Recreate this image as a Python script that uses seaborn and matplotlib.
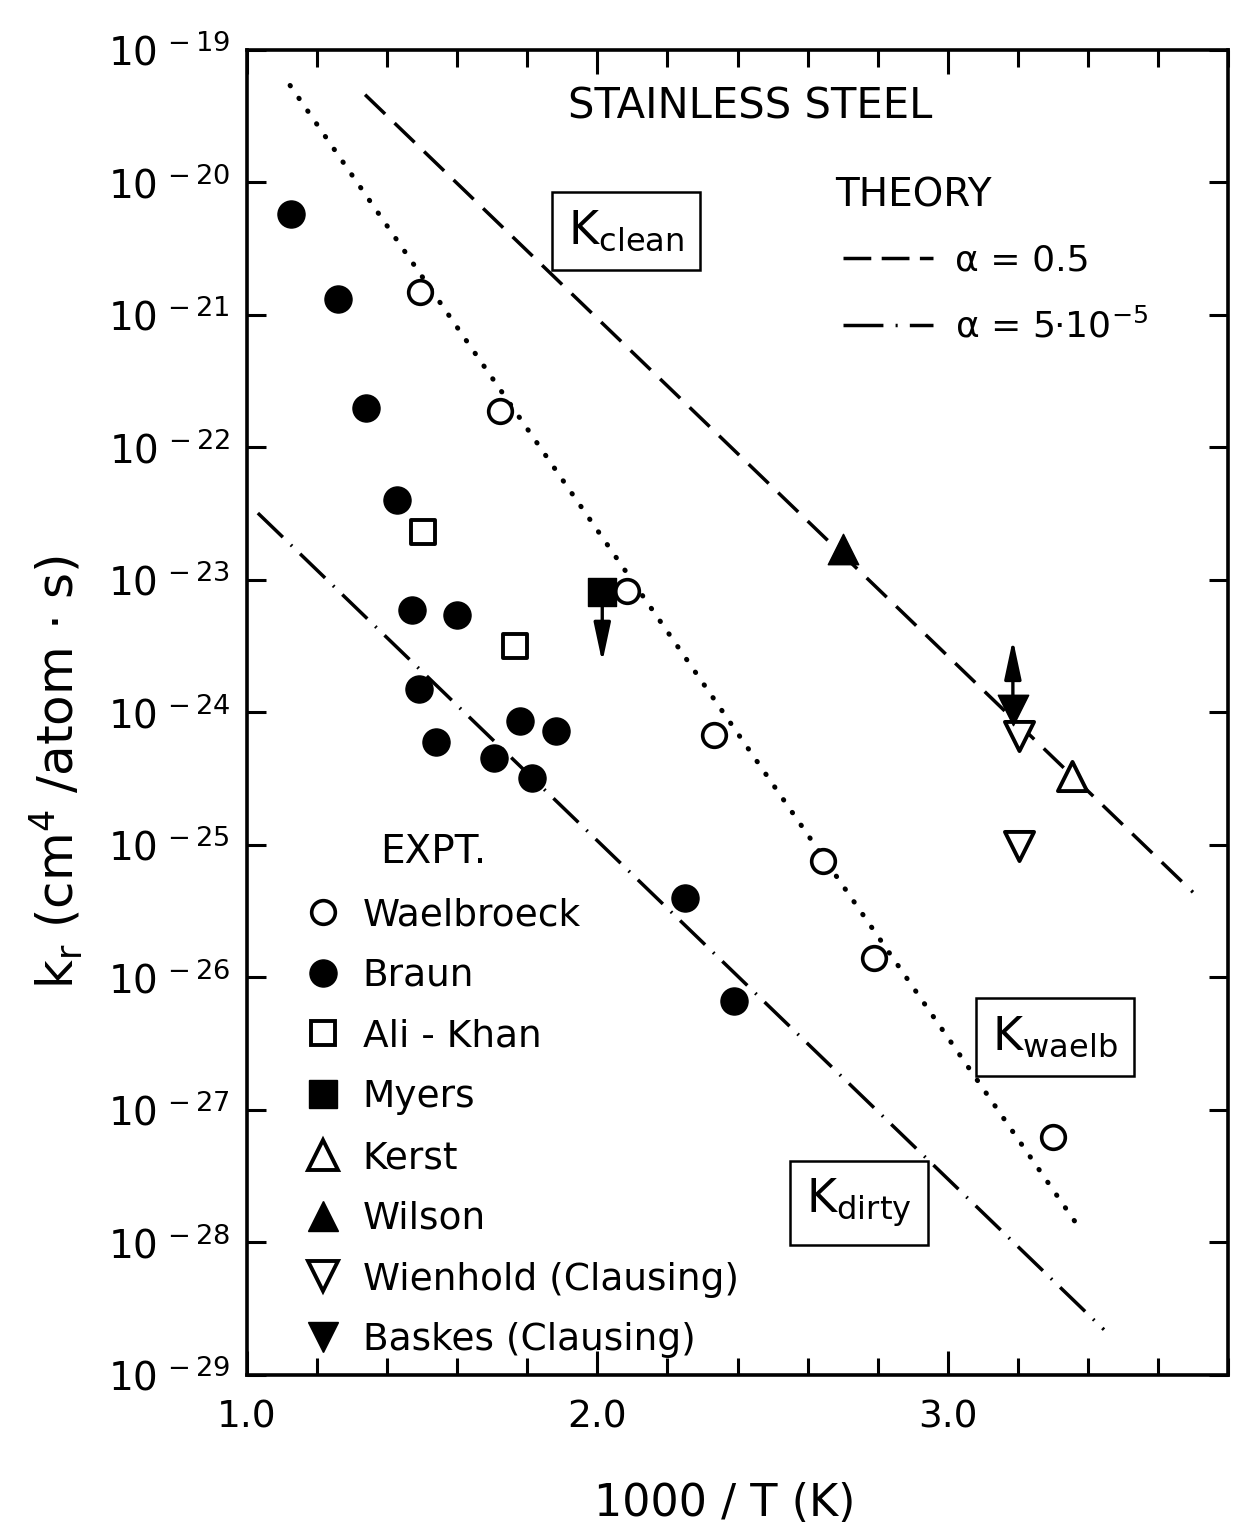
import numpy as np
import pandas as pd
import matplotlib
matplotlib.use("Agg")
import matplotlib.pyplot as plt
import seaborn as sns
from matplotlib.lines import Line2D
from matplotlib.ticker import FixedLocator, NullLocator, MultipleLocator

# ---------------- data ----------------
waelbroeck_x = [1.494, 1.723, 2.086, 2.334, 2.643, 2.791, 3.300]
waelbroeck_k = [1.5e-21, 1.9e-22, 8.3e-24, 6.8e-25, 7.6e-26, 1.4e-26, 6.3e-28]

braun_x = [1.126, 1.260, 1.340, 1.429, 1.471, 1.600, 1.491, 1.540,
           1.706, 1.780, 1.883, 1.814, 2.251, 2.389]
braun_k = [5.75e-21, 1.32e-21, 2.0e-22, 4.0e-23, 5.9e-24, 5.4e-24, 1.5e-24, 6.0e-25,
           4.5e-25, 8.7e-25, 7.2e-25, 3.2e-25, 4.0e-26, 6.6e-27]

alikhan_x = [1.503, 1.766]
alikhan_k = [2.3e-23, 3.2e-24]

myers_x = [2.014]
myers_k = [8.1e-24]

kerst_x = [3.354]
kerst_k = [3.3e-25]

wilson_x = [2.700]
wilson_k = [1.7e-23]

wienhold_x = [3.203, 3.203]
wienhold_k = [6.6e-25, 9.8e-26]

baskes_x = [3.186]
baskes_k = [1.05e-24]

# theory / fit lines (end points)
clean_x = [1.337, 3.700]
clean_k = [4.6e-20, 4.4e-26]
waelb_x = [1.123, 3.380]
waelb_k = [5.4e-20, 1.24e-28]
dirty_x = [1.031, 3.446]
dirty_k = [3.2e-23, 2.2e-29]

ytick_exponents = list(range(-29, -18))
xtick_major = [1.0, 2.0, 3.0]
xtick_labels = ["1.0", "2.0", "3.0"]

legend_names = ["Waelbroeck", "Braun", "Ali - Khan", "Myers", "Kerst", "Wilson",
                "Wienhold (Clausing)", "Baskes (Clausing)"]
theory_labels = ["α = 0.5", "α = 5·10$^{-5}$"]

# limit arrows: length in decades
ARROW_DECADES = 0.53

# ---------------- style ----------------
sns.set_theme(style="ticks")
plt.rcParams["font.family"] = ["DejaVu Sans"]
plt.rcParams["mathtext.fontset"] = "dejavusans"
for key in ["text.color", "axes.labelcolor", "xtick.color", "ytick.color", "axes.edgecolor"]:
    plt.rcParams[key] = "black"

fig = plt.figure(figsize=(12.4, 15.34), dpi=100, facecolor="white")
ax = fig.add_axes([247 / 1240, 1 - 1375 / 1534, 981 / 1240, 1325 / 1534])
ax.set_facecolor("white")
ax.set_yscale("log")
ax.set_xlim(1.0, 3.8)
ax.set_ylim(1e-29, 1e-19)

LW = 2.5
dashed = (0, (8, 3.8))
dotted = (0, (0.1, 3.0))
dashdot = (0, (10, 3.2, 0.5, 3.2))

sns.lineplot(x=clean_x, y=clean_k, ax=ax, color="black", lw=LW, linestyle=dashed,
             sort=False, estimator=None, zorder=2)
sns.lineplot(x=waelb_x, y=waelb_k, ax=ax, color="black", lw=3.6, linestyle=dotted,
             dash_capstyle="round", sort=False, estimator=None, zorder=2)
sns.lineplot(x=dirty_x, y=dirty_k, ax=ax, color="black", lw=LW, linestyle=dashdot,
             sort=False, estimator=None, zorder=2)

# ---------------- experimental points ----------------
series = [
    (waelbroeck_x, waelbroeck_k, "o", "white", 290, 2.6),
    (braun_x, braun_k, "o", "black", 380, 1.0),
    (alikhan_x, alikhan_k, "s", "white", 300, 2.8),
    (myers_x, myers_k, "s", "black", 400, 1.0),
    (kerst_x, kerst_k, "^", "white", 440, 2.8),
    (wilson_x, wilson_k, "^", "black", 480, 1.0),
    (wienhold_x, wienhold_k, "v", "white", 440, 2.8),
    (baskes_x, baskes_k, "v", "black", 480, 1.0),
]
for xs, ks, mk, fc, s, lw in series:
    df = pd.DataFrame({"x": xs, "k": ks})
    sns.scatterplot(data=df, x="x", y="k", ax=ax, marker=mk, s=s, color=fc,
                    edgecolor="black", linewidth=lw, zorder=4, legend=False)

# limit arrows (Myers: upper limit, Baskes: lower limit)
arrow_style = "-|>,head_length=1.4,head_width=0.3"
for x, k in zip(myers_x, myers_k):
    ax.annotate("", xy=(x, k * 10 ** (-ARROW_DECADES)), xytext=(x, k),
                arrowprops=dict(arrowstyle=arrow_style, mutation_scale=17, lw=2.4,
                                color="black", shrinkA=0, shrinkB=0), zorder=3)
for x, k in zip(baskes_x, baskes_k):
    ax.annotate("", xy=(x, k * 10 ** (ARROW_DECADES)), xytext=(x, k),
                arrowprops=dict(arrowstyle=arrow_style, mutation_scale=17, lw=2.4,
                                color="black", shrinkA=0, shrinkB=0), zorder=3)

# ---------------- axes ----------------
ax.yaxis.set_major_locator(FixedLocator([10.0 ** e for e in ytick_exponents]))
ax.yaxis.set_minor_locator(NullLocator())
ax.set_yticklabels([r"$10^{\,-%d}$" % (-e) for e in ytick_exponents])
ax.set_xticks(xtick_major)
ax.set_xticklabels(xtick_labels)
ax.xaxis.set_minor_locator(MultipleLocator(0.2))

ax.tick_params(axis="y", which="major", direction="in", length=14, width=2.2,
               left=True, right=True, labelsize=28, pad=12, colors="black")
ax.tick_params(axis="x", which="major", direction="in", length=17, width=2.2,
               top=True, bottom=True, labelsize=27, pad=18, colors="black")
ax.tick_params(axis="x", which="minor", direction="in", length=12, width=2.2,
               top=True, bottom=True, colors="black")
for sp in ax.spines.values():
    sp.set_visible(True)
    sp.set_linewidth(2.6)
    sp.set_color("black")

ax.set_xlabel("1000 / T (K)", fontsize=32, color="black")
ax.xaxis.set_label_coords(0.487, -0.081)
ax.set_ylabel("k$_{\\mathregular{r}}$ (cm$^{\\mathregular{4}}$ /atom · s)", fontsize=36,
              color="black")
ax.yaxis.set_label_coords(-0.165, 0.455)

# ---------------- texts ----------------
ax.text(0.513, 0.957, "STAINLESS STEEL", transform=ax.transAxes, fontsize=30,
        ha="center", va="center")
ax.text(0.600, 0.890, "THEORY", transform=ax.transAxes, fontsize=28,
        ha="left", va="center")
ax.text(0.1356, 0.395, "EXPT.", transform=ax.transAxes, fontsize=28,
        ha="left", va="center")

box = dict(boxstyle="square,pad=0.35", facecolor="white", edgecolor="black", lw=1.8)
for fx, fy, txt in [(0.3863, 0.8634, "K$_{\\mathregular{clean}}$"),
                    (0.8237, 0.2551, "K$_{\\mathregular{waelb}}$"),
                    (0.6239, 0.1298, "K$_{\\mathregular{dirty}}$")]:
    ax.text(fx, fy, txt, transform=ax.transAxes, fontsize=33, ha="center",
            va="center", bbox=box, zorder=5)

# theory legend
theory_handles = [Line2D([], [], color="black", lw=LW, linestyle=(0, (8, 3.0))),
                  Line2D([], [], color="black", lw=LW, linestyle=(0, (11.5, 3.5, 0.6, 3.5)))]
leg1 = ax.legend(theory_handles, theory_labels, loc="upper left",
                 bbox_to_anchor=(0.6075, 0.854), bbox_transform=ax.transAxes,
                 frameon=False, fontsize=26, borderpad=0, borderaxespad=0,
                 handlelength=2.5, handletextpad=0.6, labelspacing=0.85)
for t in leg1.get_texts():
    t.set_color("black")
ax.add_artist(leg1)

# experiment legend
expt_handles = []
for xs, ks, mk, fc, s, lw in series:
    expt_handles.append(Line2D([], [], linestyle="none", marker=mk,
                               markersize=np.sqrt(s), markerfacecolor=fc,
                               markeredgecolor="black", markeredgewidth=lw))
leg2 = ax.legend(expt_handles, legend_names, loc="upper left",
                 bbox_to_anchor=(0.0581, 0.3607), bbox_transform=ax.transAxes,
                 frameon=False, fontsize=27, borderpad=0, borderaxespad=0,
                 handlelength=1.0, handletextpad=0.57, labelspacing=0.66)
for t in leg2.get_texts():
    t.set_color("black")

fig.savefig("out.png", dpi=100, facecolor="white")
